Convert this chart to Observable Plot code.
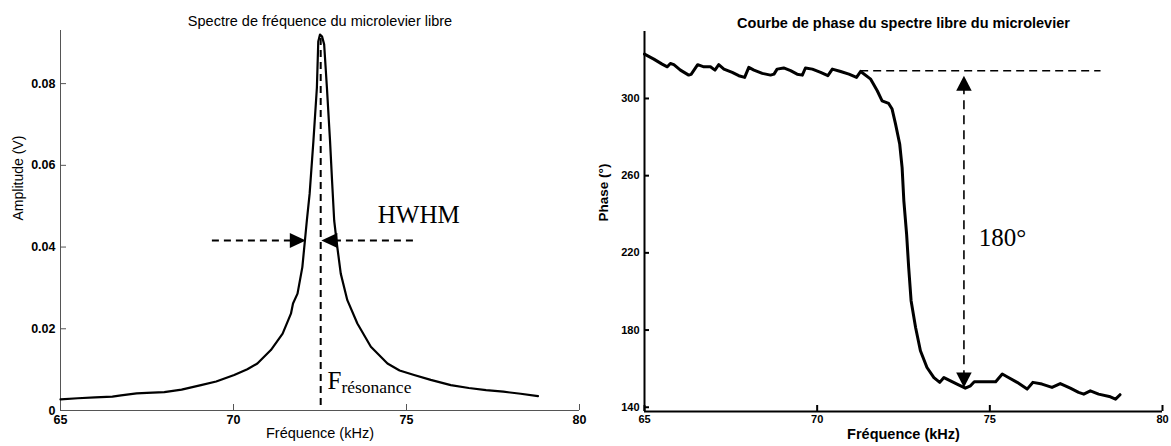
<!DOCTYPE html>
<html><head><meta charset="utf-8">
<script src="https://cdn.jsdelivr.net/npm/d3@7"></script>
<script src="https://cdn.jsdelivr.net/npm/@observablehq/plot@0.6"></script>
<style>
body{margin:0;background:#fff;}
#wrap{position:relative;width:1171px;height:446px;overflow:hidden;background:#fff;}
#left{position:absolute;left:0;top:0;}
#right{position:absolute;left:590px;top:0;}
</style></head><body>
<div id="wrap"><div id="left"></div><div id="right"></div></div>
<script>
// ---- Amplitude spectrum (left) ----
const ampFreq = [65.0,65.5,66.0,66.5,66.75,67.2,67.5,68.0,68.5,69.06,69.5,70.02,70.4,70.69,71.08,71.42,71.66,71.72,71.85,71.99,72.12,72.2,72.31,72.41,72.45,72.5,72.56,72.62,72.7,72.79,72.85,72.91,73.0,73.1,73.29,73.58,73.97,74.45,74.8,75.22,75.7,76.28,76.8,77.3,77.8,78.3,78.8];
const amplitude = [0.0027,0.0030,0.0032,0.0034,0.0037,0.0042,0.0043,0.0045,0.0051,0.0062,0.0071,0.0087,0.0101,0.0115,0.0148,0.0188,0.0237,0.0262,0.0286,0.0351,0.0465,0.053,0.066,0.079,0.0903,0.092,0.0915,0.0896,0.079,0.066,0.056,0.0465,0.040,0.0335,0.027,0.0213,0.0156,0.0115,0.0098,0.0087,0.0075,0.0062,0.0055,0.0050,0.0046,0.0041,0.0035];
// ---- Phase curve (right) ----
const phaseFreq = [65.0,65.27,65.51,65.66,65.75,65.85,66.04,66.28,66.35,66.54,66.72,66.91,67.04,67.15,67.3,67.54,67.73,67.9,68.02,68.17,68.41,68.65,68.75,68.84,69.03,69.23,69.42,69.57,69.66,69.86,70.1,70.31,70.44,70.68,70.92,71.14,71.26,71.55,71.74,71.88,72.07,72.17,72.27,72.39,72.46,72.51,72.59,72.65,72.72,72.85,72.99,73.18,73.38,73.55,73.67,73.86,74.05,74.29,74.44,74.55,74.83,75.17,75.36,75.5,75.79,76.08,76.25,76.51,76.8,77.04,77.33,77.57,77.72,77.91,78.15,78.49,78.64,78.77];
const phase = [323.0,320.4,317.8,316.4,318.1,317.5,314.7,312.1,312.5,317.5,316.4,316.4,314.7,317.5,315.2,313.5,311.8,310.9,316.1,314.7,313.0,312.1,312.6,315.2,315.8,314.4,312.6,312.1,315.8,315.2,313.5,311.8,315.2,314.0,312.6,310.9,314.0,310.0,304.0,298.8,297.4,294.5,286.7,276.4,264.2,247.0,229.7,212.4,195.2,181.3,169.3,160.6,155.4,152.9,155.4,153.7,152.0,149.9,151.1,153.2,153.2,153.2,157.2,155.8,152.9,149.4,152.9,152.0,150.3,152.3,149.9,147.7,146.8,148.5,146.8,145.4,144.2,146.5];
// ---- ticks ----
const freqTicks = [65, 70, 75, 80];
const ampTicks = [0, 0.02, 0.04, 0.06, 0.08];
const phaseTicks = [140, 180, 220, 260, 300];
const ampDomain = [0, 0.093];
const phaseDomain = [137.8, 334.7];
// ---- annotations (data units) ----
const fResonance = 72.52;
const resLineAmp = [0.0012, 0.0915];
const hwhmAmp = 0.0416;
const hwhmLeftX = [69.39, 72.09];   // dashed start, arrow tip
const hwhmRightX = [75.2, 72.54];   // dashed start, arrow tip
const hwhmLabel = {x: 74.17, y: 0.0458, text: "HWHM"};
const fLabel = {x: 72.72, y: 0.0052, text: "F"};
const fSubLabel = {x: 73.12, y: 0.0042, text: "résonance"};
const phaseRef = {x1: 71.26, x2: 78.22, y: 314.4};
const phaseArrow = {x: 74.25, top: 311.8, bottom: 150.3};
const phaseLabel = {x: 74.68, y: 223.7, text: "180°"};

const sans = "Liberation Sans, Arial, Helvetica, sans-serif";
const serif = "Liberation Serif, Times New Roman, serif";
const arrowHead = (L, W) => ({draw(ctx) { ctx.moveTo(0, 0); ctx.lineTo(W / 2, L); ctx.lineTo(-W / 2, L); ctx.closePath(); }});

// ---------- Left chart ----------
{
  const W = 590, H = 446, mL = 60, mR = 11, mT = 30, mB = 36;
  const pw = W - mL - mR, ph = H - mT - mB;
  const pts = ampFreq.map((f, i) => ({f, a: amplitude[i]}));
  const chart = Plot.plot({
    width: W, height: H, marginLeft: mL, marginRight: mR, marginTop: mT, marginBottom: mB,
    style: {fontFamily: sans, background: "white", color: "black"},
    x: {domain: [65, 80]},
    y: {domain: ampDomain},
    marks: [
      Plot.ruleY([ampDomain[0]], {stroke: "#555", strokeWidth: 1}),
      Plot.ruleX([65], {stroke: "#555", strokeWidth: 1}),
      Plot.tickX(freqTicks, {x: d => d, stroke: "#555", insetTop: ph - 6}),
      Plot.tickY(ampTicks, {y: d => d, stroke: "#555", insetRight: pw - 6}),
      Plot.axisX({ticks: freqTicks, tickSize: 0, tickPadding: 5, fontSize: 12.5, fontWeight: "bold", label: null, tickFormat: d => String(d)}),
      Plot.axisY({ticks: ampTicks, tickSize: 0, tickPadding: 5, fontSize: 12.5, fontWeight: "bold", label: null, tickFormat: d => d === 0 ? "0" : d3.format(".2f")(d)}),
      Plot.text(["Fréquence (kHz)"], {frameAnchor: "bottom", dy: 27, fontSize: 14.5, fontFamily: sans}),
      Plot.text(["Amplitude (V)"], {frameAnchor: "left", dx: -42, rotate: -90, fontSize: 14, fontFamily: sans}),
      Plot.text(["Spectre de fréquence du microlevier libre"], {frameAnchor: "top", dy: -15, fontSize: 14.5, fontFamily: sans}),
      Plot.line(pts, {x: "f", y: "a", stroke: "black", strokeWidth: 2.2, curve: "linear"}),
      Plot.ruleX([fResonance], {y1: resLineAmp[0], y2: resLineAmp[1], stroke: "black", strokeWidth: 2, strokeDasharray: "7,5"}),
      Plot.ruleY([hwhmAmp], {x1: hwhmLeftX[0], x2: hwhmLeftX[1] - 0.3, stroke: "black", strokeWidth: 2, strokeDasharray: "7,5"}),
      Plot.ruleY([hwhmAmp], {x1: hwhmRightX[0], x2: hwhmRightX[1] + 0.3, stroke: "black", strokeWidth: 2, strokeDasharray: "7,5"}),
      Plot.dot([{x: hwhmLeftX[1], y: hwhmAmp, r: 90}, {x: hwhmRightX[1], y: hwhmAmp, r: -90}],
        {x: "x", y: "y", rotate: "r", symbol: arrowHead(16, 15), fill: "black", stroke: "none"}),
      Plot.text([hwhmLabel], {x: "x", y: "y", text: "text", textAnchor: "start", lineAnchor: "bottom", fontFamily: serif, fontSize: 25}),
      Plot.text([fLabel], {x: "x", y: "y", text: "text", textAnchor: "start", lineAnchor: "bottom", fontFamily: serif, fontSize: 25}),
      Plot.text([fSubLabel], {x: "x", y: "y", text: "text", textAnchor: "start", lineAnchor: "bottom", fontFamily: serif, fontSize: 17.5})
    ]
  });
  document.getElementById("left").append(chart);
}

// ---------- Right chart ----------
{
  const W = 581, H = 446, mL = 54, mR = 9, mT = 31, mB = 35;
  const pw = W - mL - mR, ph = H - mT - mB;
  const pts = phaseFreq.map((f, i) => ({f, p: phase[i]}));
  const chart = Plot.plot({
    width: W, height: H, marginLeft: mL, marginRight: mR, marginTop: mT, marginBottom: mB,
    style: {fontFamily: sans, background: "white", color: "black"},
    x: {domain: [65, 80]},
    y: {domain: phaseDomain},
    marks: [
      Plot.ruleY([phaseDomain[0]], {stroke: "black", strokeWidth: 2}),
      Plot.ruleX([65], {stroke: "black", strokeWidth: 2}),
      Plot.tickX(freqTicks, {x: d => d, stroke: "black", strokeWidth: 2, insetTop: ph - 6}),
      Plot.tickY(phaseTicks, {y: d => d, stroke: "black", strokeWidth: 2, insetRight: pw - 5}),
      Plot.axisX({ticks: freqTicks, tickSize: 0, tickPadding: 4, fontSize: 11, fontWeight: "bold", label: null, tickFormat: d => String(d)}),
      Plot.axisY({ticks: phaseTicks, tickSize: 0, tickPadding: 5, fontSize: 11, fontWeight: "bold", label: null, tickFormat: d => String(d)}),
      Plot.text(["Fréquence (kHz)"], {frameAnchor: "bottom", dy: 27, fontSize: 14.5, fontWeight: "bold", fontFamily: sans}),
      Plot.text(["Phase (°)"], {frameAnchor: "left", dx: -41, rotate: -90, fontSize: 13.5, fontWeight: "bold", fontFamily: sans}),
      Plot.text(["Courbe de phase du spectre libre du microlevier"], {frameAnchor: "top", dy: -14, fontSize: 14.5, fontWeight: "bold", fontFamily: sans}),
      Plot.line(pts, {x: "f", y: "p", stroke: "black", strokeWidth: 3, curve: "linear"}),
      Plot.ruleY([phaseRef.y], {x1: phaseRef.x1, x2: phaseRef.x2, stroke: "black", strokeWidth: 1.6, strokeDasharray: "8,5"}),
      Plot.ruleX([phaseArrow.x], {y1: phaseArrow.bottom + 4, y2: phaseArrow.top - 4, stroke: "black", strokeWidth: 1.6, strokeDasharray: "9,6"}),
      Plot.dot([{x: phaseArrow.x, y: phaseArrow.top, r: 0}, {x: phaseArrow.x, y: phaseArrow.bottom, r: 180}],
        {x: "x", y: "y", rotate: "r", symbol: arrowHead(15, 15.5), fill: "black", stroke: "none"}),
      Plot.text([phaseLabel], {x: "x", y: "y", text: "text", textAnchor: "start", lineAnchor: "bottom", fontFamily: serif, fontSize: 25})
    ]
  });
  document.getElementById("right").append(chart);
}
</script>
</body></html>
